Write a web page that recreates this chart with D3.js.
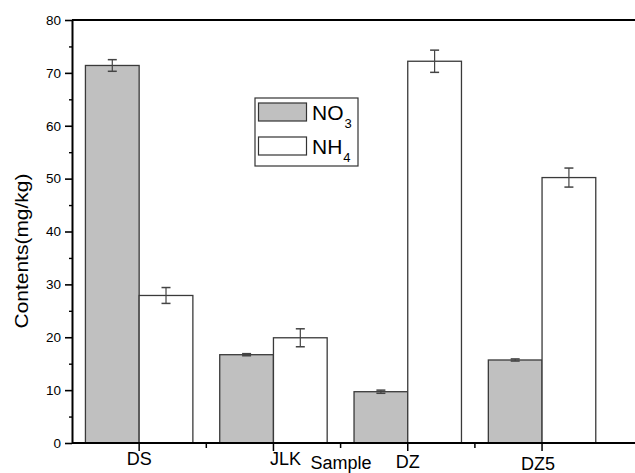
<!DOCTYPE html>
<html>
<head>
<meta charset="utf-8">
<script src="https://cdn.jsdelivr.net/npm/d3@7"></script>
<style>
  body { margin: 0; background: #fff; }
  svg { display: block; font-family: Arial, "Liberation Sans", sans-serif; }
</style>
</head>
<body>
<div id="chart"></div>
<script>
// values
const categories = ["DS", "JLK", "DZ", "DZ5"];
const no3 = [71.4, 16.7, 9.7, 15.7];
const no3Err = [1.1, 0.2, 0.3, 0.2];
const nh4 = [27.9, 19.9, 72.2, 50.2];
const nh4Err = [1.5, 1.7, 2.1, 1.8];
const yTicks = [0, 10, 20, 30, 40, 50, 60, 70, 80];
const yMinorTicks = [5, 15, 25, 35, 45, 55, 65, 75];
// small hand nudges for the category labels (dx, dy), as in the original
const labelNudge = [[0, 0], [12, 0], [0, 3], [-4, 5]];

const width = 635, height = 473;
const plotLeft = 72, plotTop = 20, plotBottom = 443;

const svg = d3.select("#chart").append("svg")
  .attr("width", width)
  .attr("height", height);

const x = d3.scaleBand()
  .domain(categories)
  .range([plotLeft, plotLeft + 4 * 134.3])
  .padding(0);

const y = d3.scaleLinear()
  .domain([0, 80])
  .range([plotBottom, plotTop]);

const barW = x.bandwidth() * 0.4;

// bars
const series = [
  {vals: no3, errs: no3Err, fill: "#c0c0c0", off: -barW},
  {vals: nh4, errs: nh4Err, fill: "#ffffff", off: 0}
];

series.forEach(s => {
  const g = svg.append("g");
  g.selectAll("rect")
    .data(categories)
    .enter().append("rect")
    .attr("x", (d) => x(d) + x.bandwidth() / 2 + s.off)
    .attr("y", (d, i) => y(s.vals[i]))
    .attr("width", barW)
    .attr("height", (d, i) => plotBottom - y(s.vals[i]))
    .style("fill", s.fill)
    .style("stroke", "#3a3a3a")
    .style("stroke-width", 1.3);

  // error bars
  categories.forEach((c, i) => {
    const cx = x(c) + x.bandwidth() / 2 + s.off + barW / 2;
    const y1 = y(s.vals[i] + s.errs[i]);
    const y2 = y(s.vals[i] - s.errs[i]);
    g.append("line").attr("x1", cx).attr("x2", cx).attr("y1", y1).attr("y2", y2)
      .style("stroke", "#444").style("stroke-width", 1.2);
    [y1, y2].forEach(yy => {
      g.append("line").attr("x1", cx - 4.5).attr("x2", cx + 4.5).attr("y1", yy).attr("y2", yy)
        .style("stroke", "#444").style("stroke-width", 1.5);
    });
  });
});

// frame: bottom, top
svg.append("line").attr("x1", plotLeft).attr("x2", width).attr("y1", plotBottom).attr("y2", plotBottom)
  .style("stroke", "#000").style("stroke-width", 2);
svg.append("line").attr("x1", plotLeft).attr("x2", width).attr("y1", plotTop).attr("y2", plotTop)
  .style("stroke", "#000").style("stroke-width", 2);

// y axis
const yAxis = d3.axisLeft(y).tickValues(yTicks).tickSize(7).tickSizeOuter(0).tickPadding(4);
const yg = svg.append("g").attr("transform", `translate(${plotLeft},0)`).call(yAxis);
yg.select(".domain").style("stroke", "#000").style("stroke-width", 2);
yg.selectAll(".tick line").style("stroke", "#000").style("stroke-width", 1.6);
yg.selectAll(".tick text").style("font-size", "13.5px").style("fill", "#000")
  .style("font-family", "Arial, 'Liberation Sans', sans-serif");
const ymg = svg.append("g").attr("transform", `translate(${plotLeft},0)`)
  .call(d3.axisLeft(y).tickValues(yMinorTicks).tickSize(3).tickFormat(""));
ymg.select(".domain").remove();
ymg.selectAll(".tick line").style("stroke", "#000").style("stroke-width", 1.4);

// x axis ticks (major at centres, minor at band edges)
const xg = svg.append("g");
xg.selectAll("line.major")
  .data(categories)
  .enter().append("line")
  .attr("x1", d => x(d) + x.bandwidth() / 2)
  .attr("x2", d => x(d) + x.bandwidth() / 2)
  .attr("y1", plotBottom).attr("y2", plotBottom + 8)
  .style("stroke", "#000").style("stroke-width", 1.5);
xg.selectAll("line.minor")
  .data(categories.slice(1))
  .enter().append("line")
  .attr("x1", d => x(d))
  .attr("x2", d => x(d))
  .attr("y1", plotBottom).attr("y2", plotBottom + 5)
  .style("stroke", "#000").style("stroke-width", 1.5);
xg.selectAll("text")
  .data(categories)
  .enter().append("text")
  .attr("x", (d, i) => x(d) + x.bandwidth() / 2 + labelNudge[i][0])
  .attr("y", (d, i) => plotBottom + 22 + labelNudge[i][1])
  .attr("text-anchor", "middle")
  .style("font-size", "18px")
  .text(d => d);

// axis titles
svg.append("text")
  .attr("x", 341).attr("y", 469)
  .attr("text-anchor", "middle")
  .style("font-size", "18px")
  .text("Sample");

svg.append("text")
  .attr("transform", "translate(28,251) rotate(-90)")
  .attr("text-anchor", "middle")
  .attr("textLength", 155)
  .attr("lengthAdjust", "spacingAndGlyphs")
  .style("font-size", "18px")
  .text("Contents(mg/kg)");

// legend
const lg = svg.append("g").attr("transform", "translate(255,98)");
lg.append("rect").attr("x", 0).attr("y", 0).attr("width", 103).attr("height", 68)
  .style("fill", "#fff").style("stroke", "#333").style("stroke-width", 1.2);
const legendItems = [
  {name: "NO", sub: "3", fill: "#c0c0c0"},
  {name: "NH", sub: "4", fill: "#ffffff"}
];
legendItems.forEach((it, i) => {
  const ly = 5 + i * 34;
  lg.append("rect").attr("x", 3.5).attr("y", ly).attr("width", 48).attr("height", 18)
    .style("fill", it.fill).style("stroke", "#333").style("stroke-width", 1.2);
  const t = lg.append("text").attr("x", 57).attr("y", ly + 17).style("font-size", "21px");
  t.append("tspan").text(it.name);
  t.append("tspan").attr("dx", 1).attr("dy", 8).style("font-size", "13px").text(it.sub);
});
</script>
</body>
</html>
